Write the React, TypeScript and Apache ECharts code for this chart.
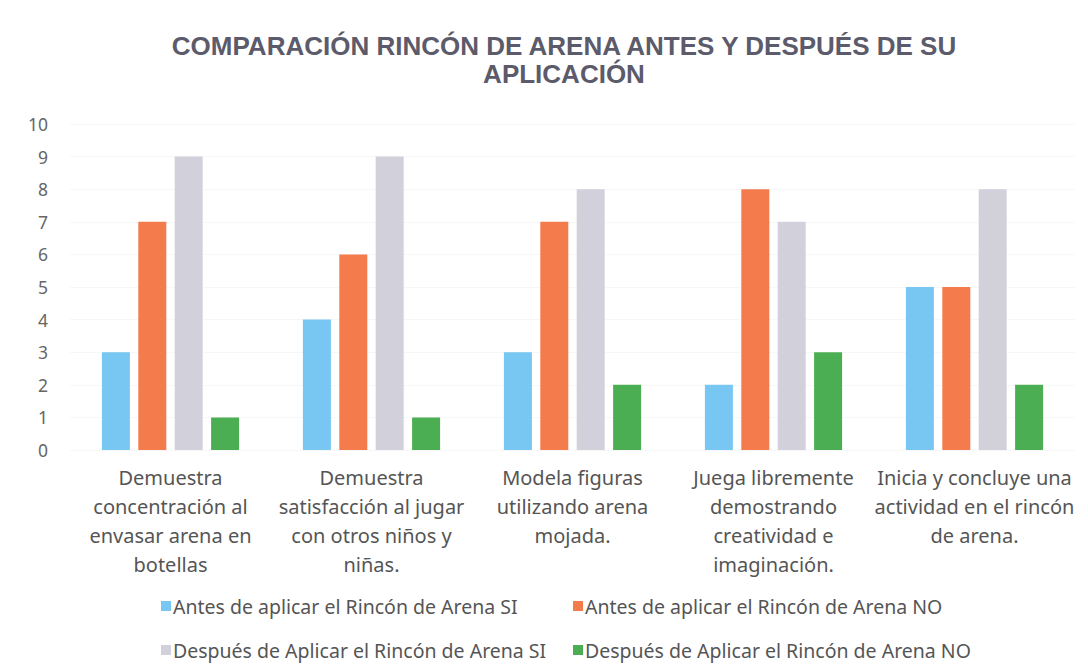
import React, { useEffect, useRef } from "react";
import * as echarts from "echarts";

const categories = [
  "Demuestra\nconcentración al\nenvasar arena en\nbotellas",
  "Demuestra\nsatisfacción al jugar\ncon otros niños y\nniñas.",
  "Modela figuras\nutilizando arena\nmojada.",
  "Juega libremente\ndemostrando\ncreatividad e\nimaginación.",
  "Inicia y concluye una\nactividad en el rincón\nde arena.",
];
const seriesNames = [
  "Antes de aplicar el Rincón de Arena SI",
  "Antes de aplicar el Rincón de Arena NO",
  "Después de Aplicar el Rincón de Arena SI",
  "Después de Aplicar el Rincón de Arena NO",
];
const antesSi = [3, 4, 3, 2, 5];
const antesNo = [7, 6, 7, 8, 5];
const despuesSi = [9, 9, 8, 7, 8];
const despuesNo = [1, 1, 2, 3, 2];
const colors = ["#78c6f2", "#f47b4b", "#d2d1db", "#4bae52"];
const titleText = "COMPARACIÓN RINCÓN DE ARENA ANTES Y DESPUÉS DE SU\nAPLICACIÓN";

export default function App() {
  const ref = useRef<HTMLDivElement>(null);
  useEffect(() => {
    if (!ref.current) return;
    const chart = echarts.init(ref.current, null, { renderer: "svg" });
    const values = [antesSi, antesNo, despuesSi, despuesNo];
    const legendPos = [
      { left: 161, top: 596 },
      { left: 573, top: 596 },
      { left: 161, top: 640 },
      { left: 573, top: 640 },
    ];
    chart.setOption({
      animation: false,
      backgroundColor: "#ffffff",
      textStyle: { fontFamily: "Noto Sans" },
      title: {
        text: titleText,
        left: 559,
        top: 27,
        textAlign: "center",
        textStyle: {
          fontFamily: "Liberation Sans",
          fontSize: 26,
          fontWeight: "bold",
          color: "#5b5b6b",
          lineHeight: 28,
        },
      },
      legend: seriesNames.map((n, i) => ({
        data: [n],
        left: legendPos[i].left,
        top: legendPos[i].top,
        icon: "rect",
        itemWidth: 10,
        itemHeight: 10,
        itemGap: 0,
        padding: 0,
        textStyle: { fontFamily: "Noto Sans", fontSize: 19.5, color: "#555555", padding: [0, 0, 0, -3] },
      })),
      grid: { left: 70, right: 13, top: 124, bottom: 215 },
      xAxis: {
        type: "category",
        data: categories,
        axisLine: { show: false },
        axisTick: { show: false },
        axisLabel: {
          interval: 0,
          margin: 13,
          fontFamily: "Noto Sans",
          fontSize: 20,
          lineHeight: 29,
          color: "#555555",
        },
      },
      yAxis: {
        type: "value",
        min: 0,
        max: 10,
        interval: 1,
        axisLine: { show: false },
        axisTick: { show: false },
        splitLine: { show: true, lineStyle: { color: "#f7f7f7" } },
        axisLabel: { margin: 22, fontFamily: "Noto Sans", fontSize: 17.5, color: "#666666" },
      },
      series: seriesNames.map((n, i) => ({
        name: n,
        type: "bar",
        data: values[i],
        barWidth: 28,
        barGap: "30%",
        itemStyle: { color: colors[i] },
      })),
    });
    return () => chart.dispose();
  }, []);
  return (
    <div
      ref={ref}
      style={{ position: "absolute", left: 0, top: 0, width: 1088, height: 665 }}
    />
  );
}
